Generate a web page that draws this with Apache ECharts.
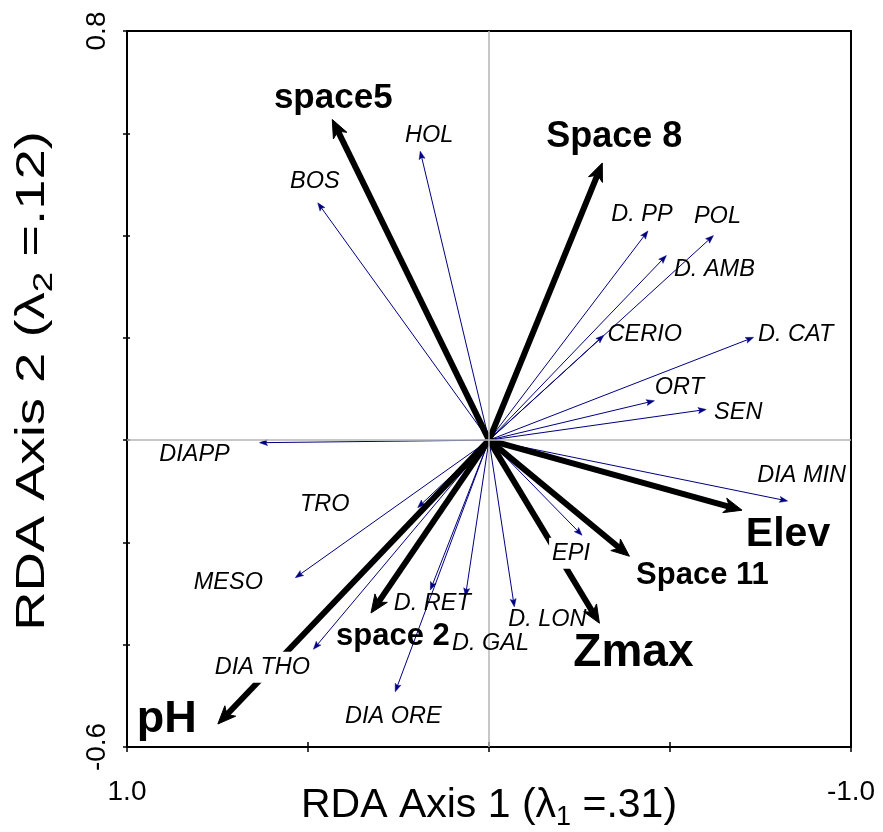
<!DOCTYPE html>
<html><head><meta charset="utf-8">
<script src="https://cdn.jsdelivr.net/npm/echarts@6/dist/echarts.min.js"></script>
<style>html,body{margin:0;padding:0;background:#fff}#c{width:883px;height:832px}</style>
</head><body><div id="c"></div>
<script>
// ---- data ----
// Environmental variables (thick black arrows)
const envNames = ['space5', 'Space 8', 'Elev', 'Space 11', 'Zmax', 'space 2', 'pH'];
const envX = [0.433, -0.313, -0.699, -0.388, -0.305, 0.326, 0.749];
const envY = [0.627, 0.542, -0.137, -0.227, -0.358, -0.338, -0.555];
// Species (thin blue arrows)
const sppNames = ['HOL', 'BOS', 'D. PP', 'POL', 'D. AMB', 'CERIO', 'D. CAT', 'ORT', 'SEN', 'DIA MIN',
  'EPI', 'D. LON', 'D. GAL', 'D. RET', 'DIA ORE', 'DIA THO', 'MESO', 'TRO', 'DIAPP'];
const sppX = [0.190, 0.473, -0.439, -0.620, -0.490, -0.317, -0.731, -0.457, -0.600, -0.825,
  -0.257, -0.070, 0.065, 0.162, 0.259, 0.485, 0.535, 0.197, 0.634];
const sppY = [0.565, 0.464, 0.409, 0.400, 0.361, 0.205, 0.201, 0.077, 0.060, -0.119,
  -0.186, -0.326, -0.305, -0.293, -0.492, -0.409, -0.269, -0.132, -0.005];
// Tick labels (only the end ticks are labelled)
const xTickLabels = ['1.0', '-1.0'];
const yTickLabels = ['0.8', '-0.6'];

// ---- layout / style (kept apart from data) ----
const FONT = '"Liberation Sans", Arial, Helvetica, sans-serif';
const envLabelOffset = [[1, -21], [12, -26], [46, 24], [73, 19], [34, 30], [22, 23], [-51, -4]];
const envFontSize = [35, 36, 41, 31, 46, 31, 45];
const sppLabelOffset = [[9, -16], [-3, -21], [-6, -16], [4, -19], [48, 14], [41, -1], [42, -3], [25, -13],
  [32, 3], [14, -26], [-11, 18], [33, 13], [25, 47], [2, 13], [-2, 25], [-51, 18], [-67, 5], [-93, -3], [-65, 12]];
const sppLabelBg = ['EPI', 'DIA THO'];

const envData = envX.map((x, i) => [x, envY[i]]);
const sppData = sppX.map((x, i) => [x, sppY[i]]);

function arrow(api, x, y, o) {
  const p0 = api.coord([0, 0]);
  const p1 = api.coord([x, y]);
  const dx = p1[0] - p0[0], dy = p1[1] - p0[1];
  const len = Math.hypot(dx, dy) || 1;
  const ux = dx / len, uy = dy / len, nx = -uy, ny = ux;
  const bx = p1[0] - ux * o.head, by = p1[1] - uy * o.head;
  const mx = p1[0] - ux * o.head * o.notch, my = p1[1] - uy * o.head * o.notch;
  const ex = p1[0] - ux * o.head * o.lineEnd, ey = p1[1] - uy * o.head * o.lineEnd;
  return {
    type: 'group',
    children: [
      { type: 'line', shape: { x1: p0[0], y1: p0[1], x2: ex, y2: ey },
        style: { stroke: o.color, lineWidth: o.width, lineCap: 'butt' } },
      { type: 'polygon', shape: { points: [[p1[0], p1[1]], [bx + nx * o.half, by + ny * o.half], [mx, my], [bx - nx * o.half, by - ny * o.half]] },
        style: { fill: o.color, stroke: o.color, lineWidth: o.width > 2 ? 1 : 0.5, lineJoin: 'miter' } }
    ]
  };
}

const chart = echarts.init(document.getElementById('c'), null, { renderer: 'canvas' });

const axisCommon = { type: 'value', splitLine: { show: false } };

const option = {
  animation: false,
  backgroundColor: '#fff',
  grid: { left: 127, top: 31, width: 724, height: 716, containLabel: false, outerBoundsMode: 'none',
    show: true, borderColor: '#000', borderWidth: 2, backgroundColor: 'transparent' },
  xAxis: [
    Object.assign({}, axisCommon, {
      min: -1, max: 1, interval: 0.5, inverse: true, position: 'bottom',
      axisLine: { show: true, onZero: false, lineStyle: { color: '#000', width: 2 } },
      axisTick: { show: true, length: 5, lineStyle: { color: '#000', width: 1.5 } },
      axisLabel: {
        show: true, color: '#000', fontSize: 28, fontFamily: FONT, margin: 31,
        formatter: v => Math.abs(v - 1) < 1e-6 ? xTickLabels[0] : (Math.abs(v + 1) < 1e-6 ? xTickLabels[1] : '')
      },
      name: '{a|RDA Axis 1 (λ}{s|1}{a| =.31)}',
      nameLocation: 'middle', nameGap: 34, nameMoveOverlap: false,
      nameTextStyle: {
        rich: {
          a: { fontSize: 41, fontFamily: FONT, color: '#000', lineHeight: 50 },
          s: { fontSize: 27, fontFamily: FONT, color: '#000', lineHeight: 27, verticalAlign: 'bottom' }
        }
      }
    }),
    Object.assign({}, axisCommon, {
      min: -1, max: 1, interval: 0.5, inverse: true, position: 'bottom',
      axisLine: { show: false, onZero: false }, axisLabel: { show: false },
      axisTick: { show: true, inside: true, length: 5, lineStyle: { color: '#000', width: 1.5 } }
    })
  ],
  yAxis: [
    Object.assign({}, axisCommon, {
      min: -0.6, max: 0.8, interval: 0.2, position: 'left',
      axisLine: { show: true, onZero: false, lineStyle: { color: '#000', width: 2 } },
      axisTick: { show: true, length: 4, lineStyle: { color: '#000', width: 1.5 } },
      axisLabel: {
        show: true, color: '#000', fontSize: 28, fontFamily: FONT, margin: 16, rotate: 90,
        formatter: v => Math.abs(v - 0.8) < 1e-6 ? yTickLabels[0] : (Math.abs(v + 0.6) < 1e-6 ? yTickLabels[1] : '')
      }
    }),
    Object.assign({}, axisCommon, {
      min: -0.6, max: 0.8, interval: 0.2, position: 'left',
      axisLine: { show: false, onZero: false }, axisLabel: { show: false },
      axisTick: { show: true, inside: true, length: 3, lineStyle: { color: '#000', width: 1.5 } }
    })
  ],
  graphic: [{
    type: 'text', x: 33, y: 381, rotation: Math.PI / 2, scaleX: 1.36, scaleY: 1,
    style: {
      text: '{a|RDA Axis 2 (λ}{s|2}{a| =.12)}',
      rich: {
        a: { fontSize: 40, fontFamily: FONT, fill: '#000', lineHeight: 50 },
        s: { fontSize: 27, fontFamily: FONT, fill: '#000', lineHeight: 27, verticalAlign: 'bottom' }
      },
      align: 'center', verticalAlign: 'middle', fill: '#000'
    }
  }],
  series: [
    {
      type: 'line', data: [[0, 0]], showSymbol: false, symbol: 'none', z: 1,
      lineStyle: { width: 0 },
      markLine: {
        silent: true, symbol: ['none', 'none'], label: { show: false },
        lineStyle: { color: '#b4b4b4', width: 1.5, type: 'solid' },
        data: [{ xAxis: 0 }, { yAxis: 0 }]
      }
    },
    {
      type: 'custom', name: 'species', coordinateSystem: 'cartesian2d', z: 2, clip: false,
      data: sppData,
      renderItem: (params, api) => arrow(api, api.value(0), api.value(1),
        { head: 8, half: 3, notch: 0.8, lineEnd: 0.7, width: 1, color: '#000080' })
    },
    {
      type: 'custom', name: 'environment', coordinateSystem: 'cartesian2d', z: 3, clip: false,
      data: envData,
      renderItem: (params, api) => arrow(api, api.value(0), api.value(1),
        { head: 18, half: 7.5, notch: 0.72, lineEnd: 0.5, width: 6, color: '#000' })
    },
    {
      type: 'custom', name: 'speciesLabels', coordinateSystem: 'cartesian2d', z: 5, clip: false,
      data: sppData,
      renderItem: (params, api) => {
        const i = params.dataIndex;
        const p = api.coord([api.value(0), api.value(1)]);
        const off = sppLabelOffset[i];
        const bg = sppLabelBg.indexOf(sppNames[i]) >= 0;
        return {
          type: 'text', x: p[0] + off[0], y: p[1] + off[1],
          style: {
            text: sppNames[i], font: 'italic 23.5px ' + FONT, fill: '#000',
            align: 'center', verticalAlign: 'middle',
            backgroundColor: bg ? '#fff' : null, padding: bg ? [4, 3] : 0
          }
        };
      }
    },
    {
      type: 'custom', name: 'envLabels', coordinateSystem: 'cartesian2d', z: 6, clip: false,
      data: envData,
      renderItem: (params, api) => {
        const i = params.dataIndex;
        const p = api.coord([api.value(0), api.value(1)]);
        const off = envLabelOffset[i];
        return {
          type: 'text', x: p[0] + off[0], y: p[1] + off[1],
          style: {
            text: envNames[i], font: 'bold ' + envFontSize[i] + 'px ' + FONT, fill: '#000',
            align: 'center', verticalAlign: 'middle'
          }
        };
      }
    }
  ]
};
chart.setOption(option);
</script>
</body></html>
